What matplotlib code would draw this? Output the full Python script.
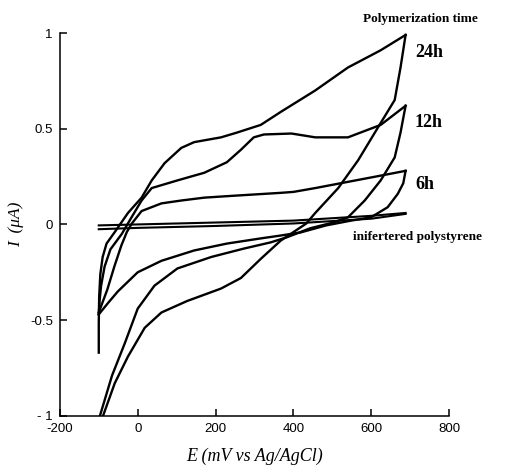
#!/usr/bin/env python3

import matplotlib
matplotlib.use("Agg")
import matplotlib.pyplot as plt

# Cyclic voltammograms (E in mV, I in uA)
# forward = anodic sweep from -100 mV up to the vertex, reverse = back down

e_24h_fwd = [-100, -100, -99, -96, -90, -80, -59, -25, 10, 36, 69, 112, 145,
             214, 255, 316, 369, 456, 540, 624, 688]
i_24h_fwd = [-0.67, -0.52, -0.38, -0.26, -0.17, -0.10, -0.04, 0.06, 0.14, 0.23,
             0.32, 0.40, 0.43, 0.455, 0.48, 0.52, 0.59, 0.70, 0.82, 0.91, 0.99]
e_24h_rev = [688, 675, 660, 624, 566, 515, 456, 433, 400, 367, 316, 265, 214,
             127, 61, 18, -25, -59, -89]
i_24h_rev = [0.99, 0.82, 0.65, 0.53, 0.335, 0.19, 0.06, 0.005, -0.04, -0.085,
             -0.18, -0.28, -0.335, -0.40, -0.46, -0.54, -0.69, -0.83, -1.0]

e_12h_fwd = [-100, -98, -94, -85, -70, -41, -15, 10, 36, 102, 171, 229, 265,
             298, 324, 395, 456, 540, 624, 688]
i_12h_fwd = [-0.47, -0.40, -0.32, -0.22, -0.13, -0.05, 0.04, 0.125, 0.19, 0.23,
             0.27, 0.325, 0.39, 0.455, 0.47, 0.475, 0.455, 0.455, 0.52, 0.62]
e_12h_rev = [688, 675, 660, 624, 583, 540, 502, 443, 382, 341, 273, 189, 102,
             43, 0, -33, -66, -97]
i_12h_rev = [0.62, 0.48, 0.35, 0.23, 0.125, 0.037, 0.01, -0.02, -0.068, -0.094,
             -0.126, -0.17, -0.23, -0.32, -0.44, -0.62, -0.79, -1.0]

e_6h_fwd = [-100, -78, -60, -42, -28, -15, 10, 61, 112, 171, 247, 367, 400,
            456, 624, 688]
i_6h_fwd = [-0.46, -0.34, -0.22, -0.11, -0.04, 0.005, 0.07, 0.11, 0.125, 0.14,
            0.15, 0.165, 0.17, 0.19, 0.255, 0.28]
e_6h_rev = [688, 682, 668, 642, 599, 548, 484, 418, 367, 316, 229, 145, 61, 0,
            -51, -76, -100]
i_6h_rev = [0.28, 0.215, 0.16, 0.09, 0.037, 0.02, -0.005, -0.042, -0.058,
            -0.073, -0.10, -0.136, -0.19, -0.25, -0.35, -0.41, -0.47]

e_ps_fwd = [-100, 0, 200, 400, 600, 688]
i_ps_fwd = [-0.005, 0.0, 0.01, 0.02, 0.045, 0.06]
e_ps_rev = [688, 600, 400, 200, 0, -100]
i_ps_rev = [0.055, 0.03, 0.005, -0.008, -0.018, -0.025]

curve_labels = ["24h", "12h", "6h"]
label_y = [0.90, 0.53, 0.21]

x_ticks = [-200, 0, 200, 400, 600, 800]
y_ticks = [-1, -0.5, 0, 0.5, 1]
y_tick_labels = ["- 1", "-0.5", "0", "0.5", "1"]

serif = "Liberation Serif"
sans = "Liberation Sans"

fig = plt.figure(figsize=(5.07, 4.72), dpi=100)
ax = fig.add_axes([0.118, 0.119, 0.768, 0.811])

lw = 1.7
ax.plot(e_24h_fwd, i_24h_fwd, color="black", lw=lw)
ax.plot(e_24h_rev, i_24h_rev, color="black", lw=lw)
ax.plot(e_12h_fwd, i_12h_fwd, color="black", lw=lw)
ax.plot(e_12h_rev, i_12h_rev, color="black", lw=lw)
ax.plot(e_6h_fwd, i_6h_fwd, color="black", lw=lw)
ax.plot(e_6h_rev, i_6h_rev, color="black", lw=lw)
ax.plot(e_ps_fwd, i_ps_fwd, color="black", lw=1.5)
ax.plot(e_ps_rev, i_ps_rev, color="black", lw=1.5)

ax.set_xlim(-200, 800)
ax.set_ylim(-1, 1)
ax.spines["top"].set_visible(False)
ax.spines["right"].set_visible(False)
ax.spines["left"].set_linewidth(1.1)
ax.spines["bottom"].set_linewidth(1.1)

ax.set_xticks(x_ticks)
ax.set_xticklabels([str(v) for v in x_ticks])
ax.set_yticks(y_ticks)
ax.set_yticklabels(y_tick_labels)
ax.tick_params(direction="in", length=5, width=1.1, labelsize=9.5, pad=5)
for lab in ax.get_xticklabels() + ax.get_yticklabels():
    lab.set_fontfamily(sans)

ax.set_xlabel("E (mV vs Ag/AgCl)", fontfamily=serif, fontstyle="italic",
              fontsize=13, labelpad=9)
ax.set_ylabel("I  (\u03bcA)", fontfamily=serif, fontstyle="italic",
              fontsize=12.5, labelpad=4)

# annotations on the right
for lab, y in zip(curve_labels, label_y):
    ax.text(712, y, lab, fontfamily=serif, fontweight="bold", fontsize=13,
            va="center", ha="left")
ax.text(726, 1.075, "Polymerization time", fontfamily=serif, fontweight="bold",
        fontsize=9.5, ha="center", va="center", clip_on=False)
ax.text(553, -0.068, "inifertered polystyrene", fontfamily=serif,
        fontweight="bold", fontsize=9.5, ha="left", va="center", clip_on=False)

fig.savefig("out.png", dpi=100)
